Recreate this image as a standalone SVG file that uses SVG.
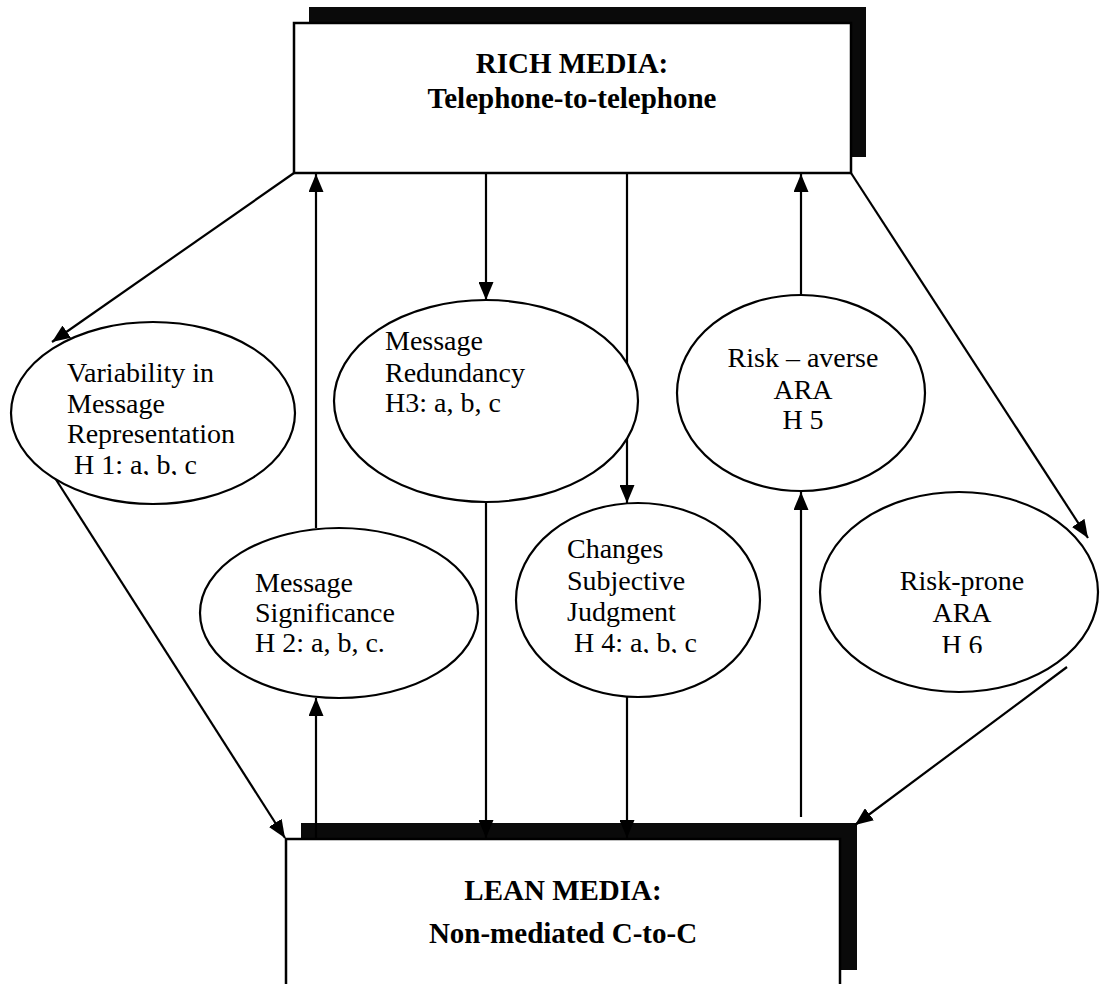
<svg xmlns="http://www.w3.org/2000/svg" width="1101" height="984" viewBox="0 0 1101 984">
<defs>
<marker id="ah" markerUnits="userSpaceOnUse" markerWidth="18" markerHeight="15" refX="18" refY="7.5" orient="auto">
<path d="M0,0 L18,7.5 L0,15 Z" fill="#000"/>
</marker>
<clipPath id="c1"><rect x="0" y="440" width="320" height="35"/></clipPath>
<clipPath id="c4"><rect x="520" y="620" width="240" height="33"/></clipPath>
<clipPath id="c6"><rect x="900" y="625" width="120" height="28"/></clipPath>
</defs>
<style>
.box{fill:#fff;stroke:#000;stroke-width:2.5}
.sh{fill:#0a0a0a}
.el{fill:#fff;stroke:#000;stroke-width:2.2}
.t{font-family:"Liberation Serif","Times New Roman",serif;font-size:28px;fill:#000}
.tb{font-family:"Liberation Serif","Times New Roman",serif;font-size:29px;font-weight:bold;fill:#000;text-anchor:middle}
.c{text-anchor:middle}
.ar{stroke:#000;stroke-width:2.2;fill:none;marker-end:url(#ah)}
</style>
<rect width="1101" height="984" fill="#fff"/>
<g id="rich">
<rect class="sh" x="309" y="7" width="557" height="16"/>
<rect class="sh" x="851" y="7" width="15" height="150"/>
<rect class="box" x="294" y="23" width="557" height="150"/>
<text class="tb" x="572" y="73">RICH MEDIA:</text>
<text class="tb" x="572" y="108">Telephone-to-telephone</text>
</g>
<g id="lean">
<rect class="sh" x="301" y="823" width="556" height="16"/>
<rect class="sh" x="840" y="823" width="17" height="147"/>
<rect class="box" x="286" y="839" width="554" height="160"/>
<text class="tb" x="563" y="900">LEAN MEDIA:</text>
<text class="tb" x="563" y="943">Non-mediated C-to-C</text>
</g>
<g id="connectors">
<line class="ar" x1="294" y1="173" x2="52" y2="342"/>
<line class="ar" x1="55" y1="478" x2="285" y2="838"/>
<line class="ar" x1="316" y1="528" x2="316" y2="174"/>
<line class="ar" x1="316" y1="838" x2="316" y2="698"/>
<line class="ar" x1="486" y1="173" x2="486" y2="300"/>
<line class="ar" x1="486" y1="502" x2="486" y2="838"/>
<line class="ar" x1="627" y1="173" x2="627" y2="503"/>
<line class="ar" x1="627" y1="697" x2="627" y2="838"/>
<line class="ar" x1="801" y1="295" x2="801" y2="174"/>
<line class="ar" x1="801" y1="817" x2="801" y2="492"/>
<line class="ar" x1="851" y1="173" x2="1088" y2="538"/>
<line class="ar" x1="1067" y1="667" x2="855" y2="825"/>
</g>
<g id="n1">
<ellipse class="el" cx="153" cy="413" rx="142" ry="91"/>
<text class="t" x="67" y="382">Variability in</text>
<text class="t" x="67" y="413">Message</text>
<text class="t" x="67" y="443">Representation</text>
<text class="t" x="74" y="474" clip-path="url(#c1)">H 1: a, b, c</text>
</g>
<g id="n2">
<ellipse class="el" cx="339" cy="613" rx="139" ry="85"/>
<text class="t" x="255" y="592">Message</text>
<text class="t" x="255" y="622">Significance</text>
<text class="t" x="255" y="652">H 2: a, b, c.</text>
</g>
<g id="n3">
<ellipse class="el" cx="486" cy="401" rx="152" ry="101"/>
<text class="t" x="385" y="350">Message</text>
<text class="t" x="385" y="382">Redundancy</text>
<text class="t" x="385" y="412">H3: a, b, c</text>
</g>
<g id="n4">
<ellipse class="el" cx="638" cy="600" rx="122" ry="97"/>
<text class="t" x="567" y="558">Changes</text>
<text class="t" x="567" y="590">Subjective</text>
<text class="t" x="567" y="621">Judgment</text>
<text class="t" x="574" y="652" clip-path="url(#c4)">H 4: a, b, c</text>
</g>
<g id="n5">
<ellipse class="el" cx="801" cy="393" rx="124" ry="98"/>
<text class="t c" x="803" y="367">Risk – averse</text>
<text class="t c" x="803" y="399">ARA</text>
<text class="t c" x="803" y="429">H 5</text>
</g>
<g id="n6">
<ellipse class="el" cx="959" cy="592" rx="139" ry="100"/>
<text class="t c" x="962" y="590">Risk-prone</text>
<text class="t c" x="962" y="622">ARA</text>
<text class="t c" x="962" y="654" clip-path="url(#c6)">H 6</text>
</g>
</svg>
